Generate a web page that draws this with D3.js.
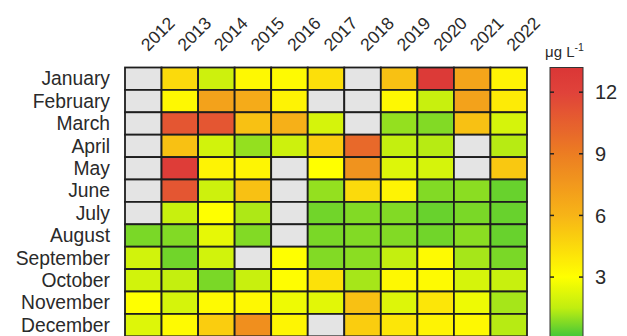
<!DOCTYPE html>
<html><head><meta charset="utf-8">
<script src="https://cdn.jsdelivr.net/npm/d3@7"></script>
<style>body{margin:0;background:#fff}svg{display:block}text{font-family:"Liberation Sans",Arial,sans-serif;fill:#2a2a2a}</style>
</head><body><svg id="c" width="627" height="336"></svg>
<script>
const years = ["2012","2013","2014","2015","2016","2017","2018","2019","2020","2021","2022"];
const months = ["January","February","March","April","May","June","July","August","September","October","November","December"];
const N = NaN;
const jan = [N, 4.5, 1.8, 3.3, 3.2, 4.3, N, 5.5, 12.8, 6.8, 3.5];
const feb = [N, 3.3, 7.0, 6.5, 3.5, N, N, 3.3, 1.7, 7.0, 3.8];
const mar = [N, 11.0, 11.0, 5.5, 6.2, 2.0, N, 1.0, 0.8, 5.5, 2.0];
const apr = [N, 5.5, 1.9, 1.0, 1.8, 5.0, 10.0, 1.6, 1.4, N, 1.4];
const may = [N, 12.5, 3.5, 3.4, N, 3.0, 7.8, 2.2, 2.0, N, 5.2];
const jun = [N, 11.0, 1.8, 5.5, N, 1.0, 4.5, 3.5, 0.8, 0.9, 0.5];
const jul = [N, 1.7, 3.0, 1.3, N, 0.6, 0.8, 0.8, 0.5, 0.7, 0.5];
const aug = [0.7, 0.8, 2.4, 0.8, N, 0.7, 0.8, 0.8, 0.6, 0.9, 0.5];
const sep = [1.9, 0.6, 1.9, N, 3.0, 0.8, 0.9, 1.6, 3.2, 1.2, 0.7];
const oct = [1.9, 1.6, 0.7, 1.7, 3.1, 4.2, 1.2, 3.3, 3.2, 2.0, 1.7];
const nov = [3.0, 2.0, 3.2, 3.3, 2.6, 2.3, 5.5, 2.2, 4.0, 2.6, 1.2];
const dec = [2.2, 3.2, 5.0, 8.0, 3.4, N, 5.0, 4.0, 3.5, 3.3, 1.4];
const rows = [jan, feb, mar, apr, may, jun, jul, aug, sep, oct, nov, dec];
const cbTicks = [3, 6, 9, 12];
const unitLabel = "μg L";

const svg = d3.select("#c");
const x = d3.scaleBand().domain(years).range([125, 527]);
const y = d3.scaleBand().domain(months).range([67.5, 336.3]);
const color = d3.scaleLinear()
  .domain([0, 1.5, 3, 6, 9, 12, 13.2])
  .range(["#3cc43c", "#c0ee10", "#ffff00", "#f7b417", "#ec7d22", "#e0423a", "#da3636"])
  .clamp(true);

const cells = [];
rows.forEach((r, i) => r.forEach((v, j) => cells.push({m: months[i], yr: years[j], v})));
svg.append("g").selectAll("rect").data(cells).join("rect")
  .attr("x", d => x(d.yr)).attr("y", d => y(d.m))
  .attr("width", x.bandwidth()).attr("height", y.bandwidth())
  .attr("fill", d => isNaN(d.v) ? "#e4e4e4" : color(d.v))
  .attr("stroke", "#1e1e1e").attr("stroke-width", 1.8);

svg.append("g").selectAll("text").data(months).join("text")
  .attr("x", 110).attr("y", d => y(d) + y.bandwidth() / 2)
  .attr("dy", "0.35em").attr("text-anchor", "end")
  .style("font-size", "19.3px").text(d => d);

svg.append("g").selectAll("text").data(years).join("text")
  .attr("transform", d => `translate(${x(d) + x.bandwidth() / 2 + 5},52) rotate(-45)`)
  .attr("text-anchor", "start").style("font-size", "17.5px").text(d => d);

// colorbar
const cbX = 550, cbW = 33;
const cb = d3.scaleLinear().domain([0, 13.2]).range([338.7, 67.5]);
const defs = svg.append("defs");
const grad = defs.append("linearGradient").attr("id", "g")
  .attr("gradientUnits", "userSpaceOnUse")
  .attr("x1", 0).attr("x2", 0)
  .attr("y1", cb(0)).attr("y2", cb(13.2));
d3.range(0, 13.21, 0.3).forEach(v => grad.append("stop").attr("offset", v / 13.2).attr("stop-color", color(v)));
svg.append("rect").attr("x", cbX).attr("y", cb(13.2)).attr("width", cbW).attr("height", 336 - cb(13.2) + 2)
  .attr("fill", "url(#g)").attr("stroke", "#333").attr("stroke-width", 1);
const tg = svg.append("g").selectAll("g").data(cbTicks).join("g");
tg.append("line").attr("x1", cbX).attr("x2", cbX + 4).attr("y1", d => cb(d)).attr("y2", d => cb(d)).attr("stroke", "#222").attr("stroke-width", 1.5);
tg.append("line").attr("x1", cbX + cbW - 4).attr("x2", cbX + cbW).attr("y1", d => cb(d)).attr("y2", d => cb(d)).attr("stroke", "#222").attr("stroke-width", 1.5);
tg.append("text").attr("x", 595).attr("y", d => cb(d)).attr("dy", "0.36em").style("font-size", "20px").text(d => d);

const ul = svg.append("text").attr("x", 545).attr("y", 57).style("font-size", "15px").text(unitLabel);
ul.append("tspan").attr("dy", -6).style("font-size", "10.5px").text("-1");
</script></body></html>
